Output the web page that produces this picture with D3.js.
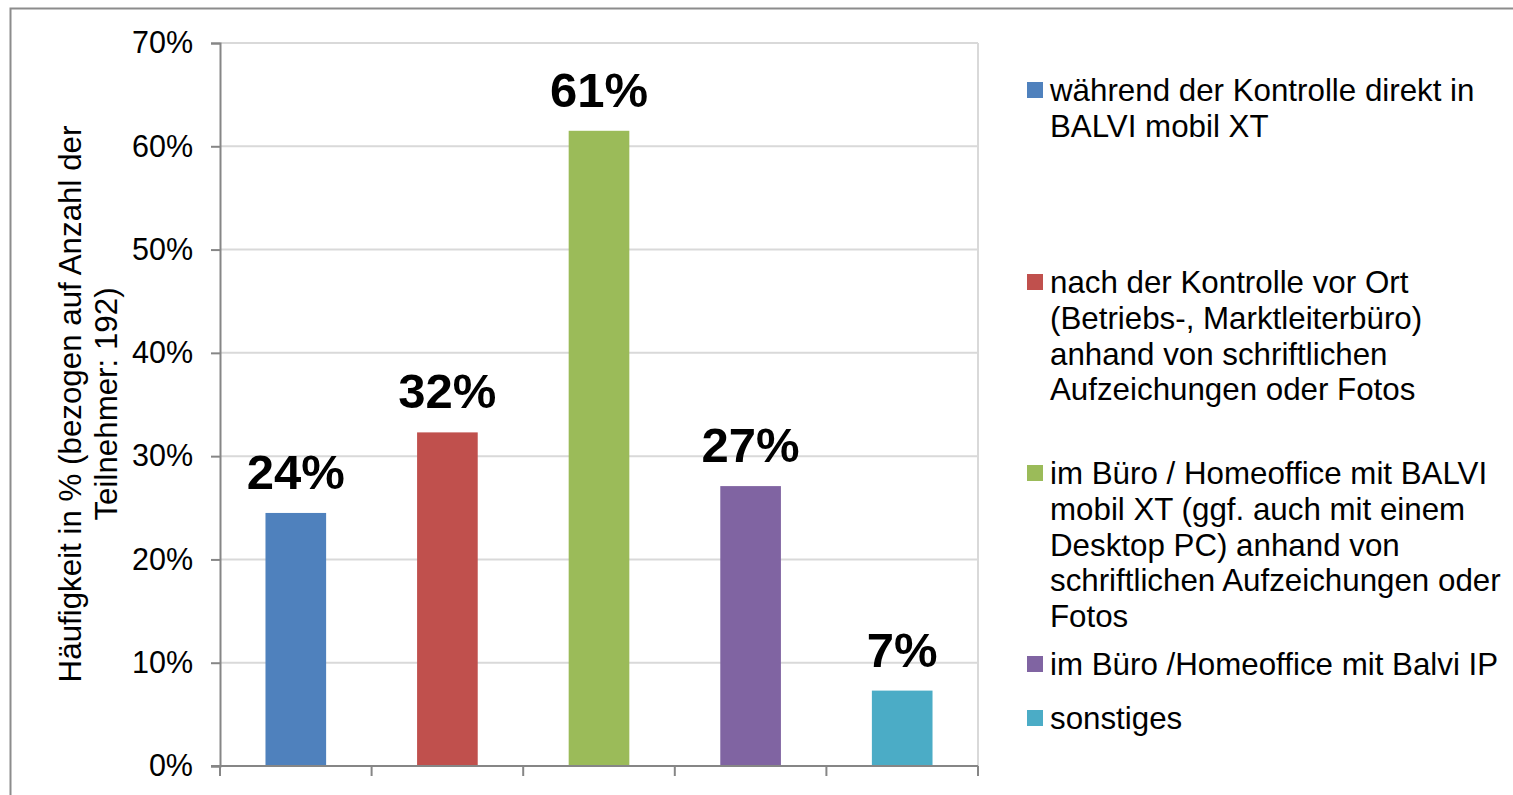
<!DOCTYPE html>
<html>
<head>
<meta charset="utf-8">
<style>
    body { margin: 0; background: #fff; }
    svg text { font-family: "Liberation Sans", Arial, Helvetica, sans-serif; fill: #000; }
</style>
</head>
<body>
<svg id="chart" width="1513" height="795"></svg>

<script src="https://cdn.jsdelivr.net/npm/d3@7"></script>
<script>
// data
var categories = ["k1", "k2", "k3", "k4", "k5"];
var values = [24.5, 32.3, 61.5, 27.1, 7.3];
var valueLabels = ["24%", "32%", "61%", "27%", "7%"];
var colors = ["#4f81bd", "#c0504d", "#9bbb59", "#8064a2", "#4bacc6"];
var yTicks = [0, 10, 20, 30, 40, 50, 60, 70];
var legendLines = [
    ["während der Kontrolle direkt in", "BALVI mobil XT"],
    ["nach der Kontrolle vor Ort", "(Betriebs-, Marktleiterbüro)", "anhand von schriftlichen", "Aufzeichungen oder Fotos"],
    ["im Büro / Homeoffice mit BALVI", "mobil XT (ggf. auch mit einem", "Desktop PC) anhand von", "schriftlichen Aufzeichungen oder", "Fotos"],
    ["im Büro /Homeoffice mit Balvi IP"],
    ["sonstiges"]
];
var yTitle = ["Häufigkeit in % (bezogen auf Anzahl der", "Teilnehmer: 192)"];

// layout
var plot = {left: 220, right: 978, top: 43, bottom: 766};
var legendTop = [90, 282, 473, 664, 718];   // centre of first line of each entry
var lineH = 35.8;
var fontSize = 31.3;
var tickFont = 30.5;

var svg = d3.select("#chart");

// outer frame (runs past the right and bottom edges)
svg.append("rect")
    .attr("x", 10.5).attr("y", 8.5)
    .attr("width", 1530).attr("height", 820)
    .attr("fill", "none")
    .attr("stroke", "#8c8c8c")
    .attr("stroke-width", 2);

var x = d3.scaleBand()
    .domain(categories)
    .range([plot.left, plot.right])
    .paddingInner(0.6)
    .paddingOuter(0.3);

var y = d3.scaleLinear()
    .domain([0, 70])
    .range([plot.bottom, plot.top]);

// gridlines
svg.append("g")
    .selectAll("line")
    .data(yTicks.slice(1))
    .enter().append("line")
    .attr("x1", plot.left).attr("x2", plot.right)
    .attr("y1", function(d) { return y(d); })
    .attr("y2", function(d) { return y(d); })
    .attr("stroke", "#d9d9d9")
    .attr("stroke-width", 2);

// right edge of plot area
svg.append("line")
    .attr("x1", plot.right).attr("x2", plot.right)
    .attr("y1", plot.top).attr("y2", plot.bottom)
    .attr("stroke", "#d9d9d9")
    .attr("stroke-width", 2);

// bars
svg.append("g")
    .selectAll("rect")
    .data(values)
    .enter().append("rect")
    .attr("x", function(d, i) { return x(categories[i]); })
    .attr("width", x.bandwidth())
    .attr("y", function(d) { return y(d); })
    .attr("height", function(d) { return y(0) - y(d); })
    .attr("fill", function(d, i) { return colors[i]; });

// value labels
svg.append("g")
    .selectAll("text")
    .data(values)
    .enter().append("text")
    .attr("x", function(d, i) { return x(categories[i]) + x.bandwidth() / 2; })
    .attr("y", function(d) { return y(d) - 24; })
    .attr("text-anchor", "middle")
    .attr("font-size", "49px")
    .attr("font-weight", "bold")
    .text(function(d, i) { return valueLabels[i]; });

// y axis
var yAxis = d3.axisLeft(y)
    .tickValues(yTicks)
    .tickSize(9)
    .tickPadding(18)
    .tickFormat(function(d) { return d + "%"; });

var yg = svg.append("g")
    .attr("transform", "translate(" + plot.left + ",0)")
    .call(yAxis);
yg.select(".domain").attr("stroke", "#868686").attr("stroke-width", 2);
yg.selectAll(".tick line").attr("stroke", "#868686").attr("stroke-width", 2);
yg.selectAll(".tick text")
    .attr("font-size", tickFont + "px")
    .attr("font-family", "Liberation Sans, Arial, sans-serif")
    .attr("fill", "#000");

// x axis: ticks between categories
var xTickPos = d3.range(categories.length + 1).map(function(i) {
    return plot.left + i * (plot.right - plot.left) / categories.length;
});
var xg = svg.append("g");
xg.append("line")
    .attr("x1", plot.left - 9).attr("x2", plot.right)
    .attr("y1", plot.bottom).attr("y2", plot.bottom)
    .attr("stroke", "#868686").attr("stroke-width", 2);
xg.selectAll("line.tick")
    .data(xTickPos)
    .enter().append("line")
    .attr("class", "tick")
    .attr("x1", function(d) { return d; }).attr("x2", function(d) { return d; })
    .attr("y1", plot.bottom).attr("y2", plot.bottom + 10)
    .attr("stroke", "#868686").attr("stroke-width", 2);

// y axis title
var tg = svg.append("g")
    .attr("transform", "translate(81,404) rotate(-90)");
tg.selectAll("text")
    .data(yTitle)
    .enter().append("text")
    .attr("x", 0)
    .attr("y", function(d, i) { return i * lineH; })
    .attr("text-anchor", "middle")
    .attr("font-size", fontSize + "px")
    .text(function(d) { return d; });

// legend
var lg = svg.append("g");
legendLines.forEach(function(lines, i) {
    var cy = legendTop[i];
    lg.append("rect")
        .attr("x", 1027).attr("y", cy - 8)
        .attr("width", 16).attr("height", 16)
        .attr("fill", colors[i]);
    lg.selectAll("text.l" + i)
        .data(lines)
        .enter().append("text")
        .attr("class", "l" + i)
        .attr("x", 1050)
        .attr("y", function(d, j) { return cy + j * lineH; })
        .attr("dy", "0.35em")
        .attr("font-size", fontSize + "px")
        .text(function(d) { return d; });
});
</script>
</body>
</html>
